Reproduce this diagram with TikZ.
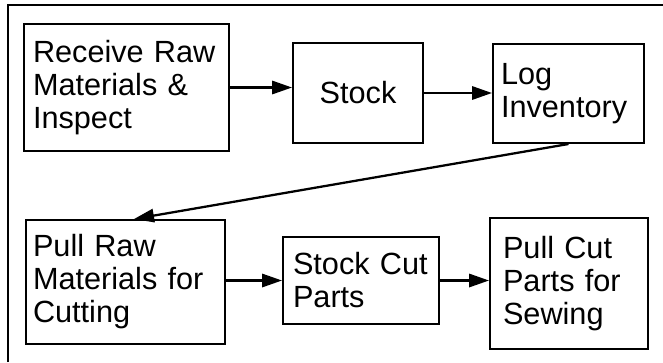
\documentclass[tikz,border=0pt]{standalone}
\usepackage{fontspec}
\setmainfont{Liberation Sans}
\usetikzlibrary{arrows.meta}
\newcommand{\stagefont}{\fontsize{23}{24.75}\selectfont}
\tikzset{
	stage/.style={draw, line width=1.5pt, rectangle, anchor=north west, align=left, font=\stagefont, inner ysep=0pt},
	flow/.style={line width=1.7pt, -{Triangle[length=15pt, width=10pt]}}
}

\begin{document}
\begin{tikzpicture}[x=0.75pt, y=-0.75pt]
			%%%%% START %%%%%
			\useasboundingbox (0, 0) rectangle (663, 362);
			
			\draw[line width=1.6pt] (8, 362) -- (8, 5) -- (663, 5);
			
			\node[stage, minimum width=153.75pt, minimum height=95.25pt, text width=140.25pt, inner xsep=6.75pt] (receive) at (23, 23) {Receive Raw\\Materials \&\\Inspect};
			\node[stage, minimum width=97.5pt, minimum height=75pt, align=center] (stock) at (292, 42) {Stock};
			\node[stage, minimum width=113.25pt, minimum height=74.25pt, text width=101.25pt, inner xsep=6pt] (log) at (492, 43) {Log\\Inventory};
			
			\node[stage, minimum width=149.25pt, minimum height=93pt, text width=138.75pt, inner xsep=5.25pt] (pullraw) at (25, 219) {Pull Raw\\Materials for\\Cutting};
			\node[stage, minimum width=117pt, minimum height=65.25pt, text width=102pt, inner xsep=7.5pt] (stockcut) at (282, 236) {Stock Cut\\Parts};
			\node[stage, minimum width=118.5pt, minimum height=98.25pt, text width=99pt, inner xsep=9.75pt] (pullcut) at (489, 217) {Pull Cut\\Parts for\\Sewing};
			
			\draw[flow] (receive.east) -- (receive.east -| stock.west);
			\draw[flow] (stock.east) -- (stock.east -| log.west);
			\draw[flow] (log.south) -- ([xshift=6.4pt]pullraw.north);
			\draw[flow] (pullraw.east |- stockcut.west) -- (stockcut.west);
			\draw[flow] (stockcut.east) -- (stockcut.east -| pullcut.west);
			
			%%%%% END %%%%%
\end{tikzpicture}
\end{document}
